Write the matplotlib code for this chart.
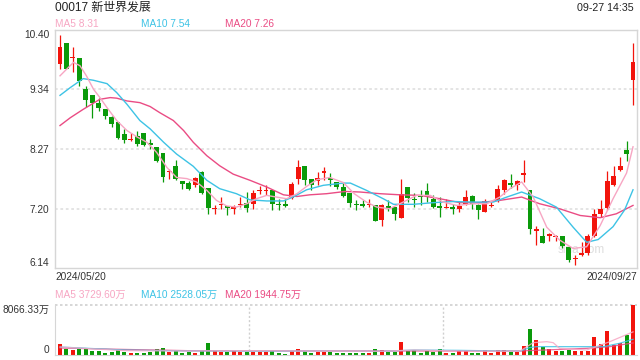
import matplotlib
matplotlib.use("Agg")
import matplotlib.pyplot as plt
import numpy as np

plt.rcParams['font.family'] = ['Liberation Sans', 'Noto Sans CJK SC']

title = '00017 新世界发展'
stamp = '09-27 14:35'
first_date = '2024/05/20'
last_date = '2024/09/27'

# daily candles, 2024/05/20 .. 2024/09/27
opens = [9.80, 10.16, 9.89, 9.90, 9.35, 9.24, 9.10, 8.98, 8.85, 8.75,
         8.53, 8.43, 8.50, 8.55, 8.37, 8.30, 8.19, 7.85, 7.96, 7.69,
         7.66, 7.63, 7.85, 7.57, 7.20, 7.26, 7.25, 7.20, 7.26, 7.30,
         7.29, 7.52, 7.51, 7.53, 7.29, 7.28, 7.40, 7.74, 7.96, 7.73,
         7.69, 7.84, 7.75, 7.68, 7.59, 7.49, 7.29, 7.29, 7.27, 7.27,
         7.00, 7.25, 7.24, 7.04, 7.59, 7.38, 7.44, 7.52, 7.38, 7.25,
         7.21, 7.24, 7.20, 7.29, 7.43, 7.26, 7.15, 7.25, 7.34, 7.53,
         7.67, 7.63, 7.81, 7.53, 6.81, 6.72, 6.71, 6.69, 6.71, 6.52,
         6.30, 6.37, 6.41, 6.71, 7.11, 7.22, 7.62, 7.90, 8.26, 9.51]
highs = [10.31, 10.17, 10.10, 9.90, 9.40, 9.24, 9.19, 8.98, 8.86, 8.76,
         8.63, 8.55, 8.59, 8.55, 8.45, 8.30, 8.19, 7.92, 8.07, 7.69,
         7.69, 7.77, 7.87, 7.57, 7.27, 7.41, 7.25, 7.27, 7.41, 7.50,
         7.53, 7.60, 7.62, 7.53, 7.38, 7.38, 7.68, 8.07, 7.96, 7.73,
         7.85, 7.94, 7.84, 7.68, 7.68, 7.49, 7.35, 7.36, 7.38, 7.27,
         7.29, 7.36, 7.24, 7.73, 7.59, 7.49, 7.54, 7.67, 7.44, 7.41,
         7.38, 7.29, 7.32, 7.53, 7.44, 7.29, 7.38, 7.32, 7.63, 7.73,
         7.82, 7.72, 8.08, 7.53, 6.90, 6.85, 6.76, 6.73, 6.71, 6.52,
         6.38, 6.61, 6.74, 7.20, 7.35, 7.87, 7.97, 8.12, 8.42, 10.16]
lows = [9.71, 9.70, 9.64, 9.40, 9.03, 8.82, 8.95, 8.80, 8.67, 8.45,
        8.37, 8.41, 8.33, 8.32, 8.27, 8.03, 7.68, 7.74, 7.72, 7.56,
        7.53, 7.59, 7.47, 7.10, 7.10, 7.20, 7.09, 7.10, 7.23, 7.14,
        7.20, 7.47, 7.44, 7.17, 7.18, 7.23, 7.38, 7.65, 7.63, 7.54,
        7.62, 7.71, 7.60, 7.56, 7.41, 7.23, 7.18, 7.23, 7.23, 6.98,
        6.89, 7.16, 7.00, 7.04, 7.32, 7.23, 7.26, 7.32, 7.22, 7.06,
        7.21, 7.11, 7.14, 7.26, 7.20, 7.02, 7.14, 7.23, 7.32, 7.47,
        7.57, 7.53, 7.68, 6.74, 6.55, 6.58, 6.62, 6.62, 6.50, 6.25,
        6.19, 6.35, 6.37, 6.70, 7.05, 7.17, 7.61, 7.88, 8.06, 9.06]
closes = [10.10, 9.71, 9.92, 9.48, 9.14, 9.10, 9.00, 8.86, 8.72, 8.47,
          8.44, 8.45, 8.36, 8.34, 8.34, 8.05, 7.77, 7.86, 7.73, 7.65,
          7.56, 7.75, 7.49, 7.22, 7.22, 7.28, 7.22, 7.23, 7.28, 7.21,
          7.48, 7.54, 7.54, 7.29, 7.26, 7.25, 7.65, 7.94, 7.72, 7.62,
          7.75, 7.87, 7.71, 7.59, 7.42, 7.31, 7.26, 7.25, 7.29, 6.99,
          7.27, 7.22, 7.11, 7.46, 7.40, 7.35, 7.41, 7.44, 7.23, 7.22,
          7.23, 7.20, 7.25, 7.41, 7.28, 7.18, 7.34, 7.27, 7.55, 7.71,
          7.63, 7.69, 7.83, 6.83, 6.83, 6.59, 6.74, 6.71, 6.53, 6.28,
          6.32, 6.41, 6.71, 7.11, 7.20, 7.69, 7.79, 7.96, 8.18, 9.82]
# volume in 万
volumes = [1775, 968, 807, 968, 968, 645, 645, 323, 484, 807,
           484, 323, 323, 323, 484, 968, 1129, 484, 645, 323,
           484, 323, 645, 1936, 645, 484, 484, 645, 484, 484,
           484, 484, 484, 645, 323, 161, 645, 968, 645, 323,
           484, 538, 538, 323, 323, 323, 323, 323, 323, 968,
           807, 538, 484, 2097, 645, 807, 323, 645, 538, 968,
           323, 323, 645, 645, 323, 323, 807, 323, 807, 807,
           538, 538, 1452, 4194, 2420, 1344, 968, 645, 645, 860,
           645, 645, 645, 2958, 1775, 3872, 1613, 1936, 3227, 8066.33]

# moving average lines (day index, value)
ma5_x = [0, 1.3, 2.1, 3.1, 4.1, 5.2, 6.2, 7.3, 8.8, 10.4, 11.9, 13.5, 15.0,
         16.6, 18.1, 19.7, 21.2, 22.8, 24.3, 25.9, 27.4, 29.0, 30.5, 32.1,
         33.6, 35.2, 36.8, 38.3, 39.9, 41.9, 44.0, 45.7, 47.6, 49.2, 51.2,
         53.3, 55.4, 57.5, 59.5, 61.6, 64.2, 66.3, 68.3, 69.9, 71.7, 73.5,
         75.6, 77.6, 79.7, 81.8, 83.9, 85.9, 88.0, 89.0]
ma5_y = [9.58, 9.73, 9.82, 9.76, 9.58, 9.34, 9.19, 9.01, 8.78, 8.60, 8.49,
         8.39, 8.21, 7.94, 7.76, 7.74, 7.68, 7.53, 7.35, 7.25, 7.23, 7.29,
         7.38, 7.44, 7.41, 7.38, 7.47, 7.60, 7.72, 7.76, 7.67, 7.47, 7.32,
         7.23, 7.20, 7.32, 7.44, 7.44, 7.32, 7.26, 7.29, 7.29, 7.41, 7.56,
         7.68, 7.41, 6.87, 6.64, 6.49, 6.52, 6.90, 7.38, 7.84, 8.31]
ma10_x = [0, 1.6, 3.6, 5.2, 7.3, 8.8, 10.4, 12.4, 14.0, 16.1, 18.1, 20.7,
          22.8, 24.8, 27.4, 29.5, 32.1, 34.7, 36.2, 38.3, 40.9, 44.0, 45.1,
          47.6, 50.2, 51.8, 54.9, 58.0, 61.1, 64.2, 67.3, 69.4, 71.7, 74.5,
          77.1, 79.7, 81.8, 83.6, 85.9, 87.7, 89.0]
ma10_y = [9.23, 9.37, 9.53, 9.50, 9.44, 9.28, 9.07, 8.78, 8.63, 8.39, 8.18,
          7.96, 7.71, 7.56, 7.47, 7.36, 7.34, 7.34, 7.41, 7.54, 7.62, 7.66,
          7.66, 7.53, 7.38, 7.28, 7.28, 7.31, 7.33, 7.32, 7.32, 7.41, 7.50,
          7.38, 7.23, 6.87, 6.60, 6.65, 6.88, 7.18, 7.54]
ma20_x = [0, 1.6, 3.6, 6.2, 7.8, 8.8, 10.4, 12.4, 14.0, 15.5, 17.6, 19.2,
          20.7, 22.8, 24.8, 26.9, 29.5, 32.1, 34.7, 36.8, 38.8, 41.4, 44.3,
          46.6, 49.7, 52.8, 55.9, 59.0, 62.1, 65.2, 68.3, 71.7, 74.5, 77.6,
          80.8, 83.9, 86.4, 89.0]
ma20_y = [8.69, 8.83, 8.98, 9.16, 9.19, 9.18, 9.13, 9.10, 9.03, 8.92, 8.78,
          8.60, 8.39, 8.15, 7.97, 7.82, 7.71, 7.59, 7.45, 7.42, 7.45, 7.47,
          7.51, 7.50, 7.47, 7.45, 7.44, 7.38, 7.31, 7.31, 7.35, 7.41, 7.29,
          7.20, 7.08, 7.04, 7.11, 7.26]

vma5_x = [0, 10, 20, 30, 40, 50, 55, 62, 71.4, 73.5, 75.6, 76.6, 77.6,
          81.8, 83.3, 85.4, 89]
vma5_y = [1290, 700, 650, 700, 600, 600, 800, 650, 600, 1990, 2151, 1990,
          1076, 807, 1345, 2151, 3730]
vma10_x = [0, 10, 20, 30, 40, 50, 55, 62, 71.4, 72.9, 74, 84.4, 86.9, 89]
vma10_y = [1290, 800, 650, 650, 600, 600, 800, 750, 600, 1183, 1345, 1345,
           1882, 2528]
vma20_x = [0, 10, 20, 40, 60, 71.4, 76.6, 81.8, 85.4, 89]
vma20_y = [1129, 900, 700, 650, 650, 645, 860, 1076, 1345, 1945]

price_ticks = [6.14, 7.20, 8.27, 9.34, 10.40]
vol_top = 8066.33

UP = '#f2140c'
DOWN = '#0a9a0a'
C_MA5 = '#f7a6c3'
C_MA10 = '#3dc3e5'
C_MA20 = '#ea4c84'
FRAME = '#d6d6d6'
GRID = '#e2e2e2'
TXT = '#333333'

W, H = 640, 360
fig = plt.figure(figsize=(6.4, 3.6), dpi=100)
ax = fig.add_axes([55 / W, 92 / H, 582 / W, 238 / H])
axv = fig.add_axes([55 / W, 5 / H, 582 / W, 50 / H])

o = np.array(opens)
c = np.array(closes)
n = len(c)
x = np.arange(n)
colors = [UP if cc >= oo else DOWN for oo, cc in zip(o, c)]

# candles
ax.vlines(x, lows, highs, colors=colors, lw=0.9, zorder=2)
body_lo = np.minimum(o, c)
body_h = np.maximum(np.abs(c - o), 0.022)
ax.bar(x, body_h, bottom=body_lo, width=0.76, color=colors, linewidth=0, zorder=2)

ax.plot(ma20_x, ma20_y, color=C_MA20, lw=1.0, zorder=3)
ax.plot(ma10_x, ma10_y, color=C_MA10, lw=1.0, zorder=3)
ax.plot(ma5_x, ma5_y, color=C_MA5, lw=1.0, zorder=3)

for y in price_ticks[1:-1]:
    ax.axhline(y, color=GRID, lw=1.3, ls=(0, (1.5, 1.5)), zorder=0)

ax.text(0.905, 0.075, 'sina.com', transform=ax.transAxes, ha='center',
        va='center', fontsize=8.5, color='#dddddd', zorder=1)

ax.set_xlim(-0.78, n - 1 + 0.62)
ax.set_ylim(price_ticks[0], price_ticks[-1])
ax.set_xticks([])
ax.set_yticks(price_ticks)
ax.set_yticklabels(['%.2f' % t for t in price_ticks])
ax.tick_params(axis='y', length=0, pad=4, labelsize=7.3, labelcolor=TXT)
labs = ax.get_yticklabels()
labs[0].set_va('bottom')
labs[-1].set_va('top')
for s in ax.spines.values():
    s.set_color(FRAME)
    s.set_linewidth(1.0)

# volume panel
axv.bar(x, volumes, width=0.62, color=colors, linewidth=0, zorder=2)
axv.plot(vma20_x, vma20_y, color=C_MA20, lw=0.9, alpha=0.85, zorder=3)
axv.plot(vma10_x, vma10_y, color=C_MA10, lw=0.9, alpha=0.85, zorder=3)
axv.plot(vma5_x, vma5_y, color=C_MA5, lw=0.9, alpha=0.85, zorder=3)
axv.set_xlim(-0.78, n - 1 + 0.62)
axv.set_ylim(0, vol_top)
axv.set_xticks([])
axv.set_yticks([0, vol_top])
axv.set_yticklabels(['0', '%.2f万' % vol_top])
axv.tick_params(axis='y', length=0, pad=4, labelsize=7.3, labelcolor=TXT)
vl = axv.get_yticklabels()
vl[0].set_va('bottom')
vl[1].set_va('top')
axv.spines['top'].set_visible(False)
axv.spines['right'].set_visible(False)
axv.spines['left'].set_color(FRAME)
axv.spines['bottom'].set_color(FRAME)
axv.plot([0, 1], [1, 1], transform=axv.transAxes, color='#cfcfcf', lw=1.2,
         ls=(0, (1.5, 1.5)), clip_on=False, zorder=1)
for f in (1 / 3, 2 / 3):
    axv.plot([f, f], [0, 1], transform=axv.transAxes, color='#d0d0d0', lw=1.0,
             ls=(0, (1.5, 1.5)), zorder=1)

# header / legend texts
def ftext(px, py, s, **kw):
    fig.text(px / W, 1 - py / H, s, va='center', **kw)

ftext(55, 8, title, fontsize=8.6, color='#222222')
ftext(634, 8, stamp, fontsize=7.7, color='#222222', ha='right')
ftext(55, 24, 'MA5 %.2f' % ma5_y[-1], fontsize=7.3, color=C_MA5)
ftext(141, 24, 'MA10 %.2f' % ma10_y[-1], fontsize=7.3, color=C_MA10)
ftext(225, 24, 'MA20 %.2f' % ma20_y[-1], fontsize=7.3, color=C_MA20)
ftext(55, 277, first_date, fontsize=7.3, color=TXT)
ftext(637, 277, last_date, fontsize=7.3, color=TXT, ha='right')
ftext(55, 295, 'MA5 3729.60万', fontsize=7.3, color=C_MA5)
ftext(141, 295, 'MA10 2528.05万', fontsize=7.3, color=C_MA10)
ftext(225, 295, 'MA20 1944.75万', fontsize=7.3, color=C_MA20)

fig.savefig('out.png', dpi=100)
